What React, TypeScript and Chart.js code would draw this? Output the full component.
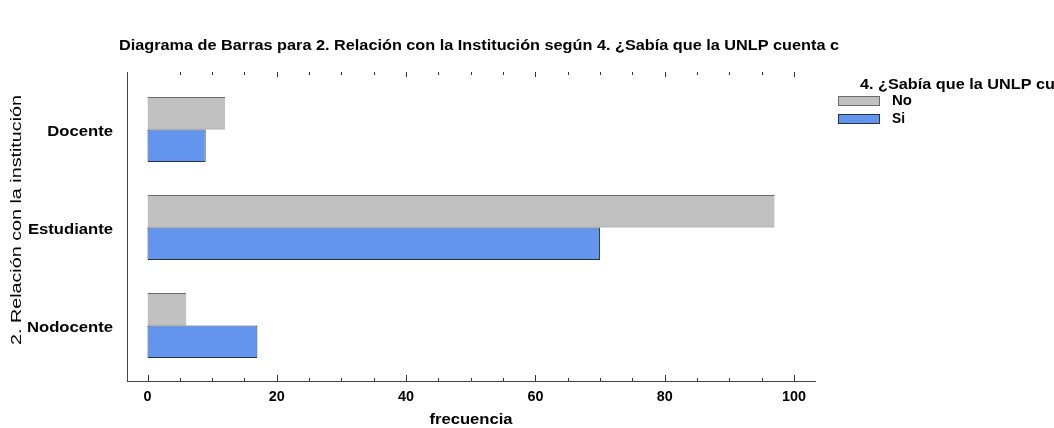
import React, { useEffect, useRef } from 'react';
import { Chart, registerables } from 'chart.js';

Chart.register(...registerables);

const categories = ['Docente', 'Estudiante', 'Nodocente'];
const seriesNames = ['No', 'Si'];
const noValues = [12, 97, 6];
const siValues = [9, 70, 17];
const xTickValues = [0, 20, 40, 60, 80, 100];
const titleText = 'Diagrama de Barras para 2. Relación con la Institución según 4. ¿Sabía que la UNLP cuenta c';
const legendTitleText = '4. ¿Sabía que la UNLP cuenta con';
const yTitleText = '2. Relación con la institución';
const xTitleText = 'frecuencia';

const FONT = '"Liberation Sans", Arial, sans-serif';
const seriesColors = ['#C0C0C0', '#6495ED'];
const seriesBorders = ['#6A6A6A', '#26324A'];

type Align = 'left' | 'center' | 'right';

function drawFitted(
  ctx: CanvasRenderingContext2D,
  text: string,
  x: number,
  y: number,
  font: string,
  align: Align,
  width?: number,
  ref?: string,
  fixedSx?: number
) {
  ctx.save();
  ctx.font = font;
  const mRef = ctx.measureText(ref ?? text).width;
  const sx = fixedSx ?? (width ? width / mRef : 1);
  const w = ctx.measureText(text).width * sx;
  const left = align === 'left' ? x : align === 'center' ? x - w / 2 : x - w;
  ctx.translate(left, y);
  ctx.scale(sx, 1);
  ctx.textAlign = 'left';
  ctx.textBaseline = 'middle';
  ctx.fillStyle = '#000';
  ctx.fillText(text, 0, 0);
  ctx.restore();
}

const decorPlugin = {
  id: 'decor',
  afterDraw(chart: any) {
    const ctx: CanvasRenderingContext2D = chart.ctx;
    const xs = chart.scales.x;
    const ys = chart.scales.y;
    const area = chart.chartArea;

    ctx.save();
    ctx.strokeStyle = '#333';
    ctx.lineWidth = 1;
    for (let v = 0; v <= 100; v += 5) {
      const px = Math.round(xs.getPixelForValue(v)) + 0.5;
      const major = v % 20 === 0;
      ctx.beginPath();
      ctx.moveTo(px, area.bottom);
      ctx.lineTo(px, area.bottom - (major ? 6 : 3));
      ctx.stroke();
      if (v > 0) {
        ctx.beginPath();
        ctx.moveTo(px, area.top);
        ctx.lineTo(px, area.top + (major ? 5 : 3));
        ctx.stroke();
      }
    }
    ctx.restore();

    const bold14 = `bold 14px ${FONT}`;

    drawFitted(ctx, titleText, 119, 46, bold14, 'left', 720);

    ctx.save();
    ctx.font = bold14;
    const tickSx = 24 / ctx.measureText('100').width;
    ctx.restore();
    xTickValues.forEach((v) => {
      drawFitted(ctx, String(v), xs.getPixelForValue(v), 397, bold14, 'center', undefined, undefined, tickSx);
    });

    drawFitted(ctx, xTitleText, (area.left + area.right) / 2, 420, bold14, 'center', 83);

    ctx.save();
    ctx.font = bold14;
    const catSx = 86 / ctx.measureText('Nodocente').width;
    ctx.restore();
    categories.forEach((c, i) => {
      drawFitted(ctx, c, area.left - 14, ys.getPixelForValue(i) + 3, bold14, 'right', undefined, undefined, catSx);
    });

    ctx.save();
    ctx.translate(17, 220);
    ctx.rotate(-Math.PI / 2);
    drawFitted(ctx, yTitleText, 0, 0, `15px ${FONT}`, 'center', 250);
    ctx.restore();

    drawFitted(ctx, legendTitleText, 860, 85, bold14, 'left', 185, '4. ¿Sabía que la UNLP c');
    const boxes = [
      { y: 96, label: seriesNames[0], w: 20 },
      { y: 114, label: seriesNames[1], w: 13 },
    ];
    boxes.forEach((b, i) => {
      ctx.save();
      ctx.fillStyle = seriesColors[i];
      ctx.fillRect(838, b.y, 42, 10);
      ctx.strokeStyle = seriesBorders[i];
      ctx.lineWidth = 1;
      ctx.strokeRect(838.5, b.y + 0.5, 41, 9);
      ctx.restore();
      drawFitted(ctx, b.label, 892, b.y + 5, bold14, 'left', b.w);
    });
  },
};

export default function App() {
  const ref = useRef<HTMLCanvasElement | null>(null);

  useEffect(() => {
    if (!ref.current) return;
    const pxPerUnit = (794 - 147.5) / 100;
    const xMin = -(147.5 - 127) / pxPerUnit;
    const xMax = 100 + (815 - 794) / pxPerUnit;
    const yMin = -0.587;
    const yMax = 2.566;

    const chart = new Chart(ref.current, {
      type: 'bar',
      data: {
        datasets: [
          {
            label: seriesNames[0],
            data: noValues.map((v, i) => ({ x: v, y: i })),
            backgroundColor: seriesColors[0],
            borderColor: seriesBorders[0],
            borderWidth: { top: 1, bottom: 1, left: 0, right: 0 },
            borderSkipped: false,
          },
          {
            label: seriesNames[1],
            data: siValues.map((v, i) => ({ x: v, y: i })),
            backgroundColor: seriesColors[1],
            borderColor: seriesBorders[1],
            borderWidth: 1,
            borderSkipped: false,
          },
        ],
      },
      options: {
        indexAxis: 'y',
        responsive: false,
        animation: false,
        devicePixelRatio: 1,
        categoryPercentage: 0.665,
        barPercentage: 1,
        layout: { padding: { top: 72, right: 1054 - 815, bottom: 0, left: 0 } },
        plugins: {
          legend: { display: false },
          title: { display: false },
          tooltip: { enabled: false },
        },
        scales: {
          x: {
            type: 'linear',
            min: xMin,
            max: xMax,
            bounds: 'data',
            offset: false,
            grid: { display: false, drawTicks: false },
            border: { display: true, color: '#444', width: 1 },
            ticks: { display: false },
            afterBuildTicks: (s: any) => {
              s.ticks = xTickValues.map((v) => ({ value: v }));
            },
            afterFit: (s: any) => {
              s.height = 428 - 381;
            },
          },
          y: {
            type: 'linear',
            reverse: true,
            min: yMin,
            max: yMax,
            bounds: 'data',
            offset: false,
            grace: 0,
            grid: { display: false, drawTicks: false, offset: false },
            border: { display: true, color: '#444', width: 1 },
            ticks: { display: false },
            afterBuildTicks: (s: any) => {
              s.ticks = categories.map((_, i) => ({ value: i }));
            },
            afterFit: (s: any) => {
              s.width = 127;
            },
          },
        },
      } as any,
      plugins: [decorPlugin],
    });
    return () => chart.destroy();
  }, []);

  return (
    <div style={{ position: 'fixed', left: 0, top: 0, width: 1054, height: 428, background: '#fff' }}>
      <canvas ref={ref} width={1054} height={428} style={{ width: 1054, height: 428, display: 'block' }} />
    </div>
  );
}
